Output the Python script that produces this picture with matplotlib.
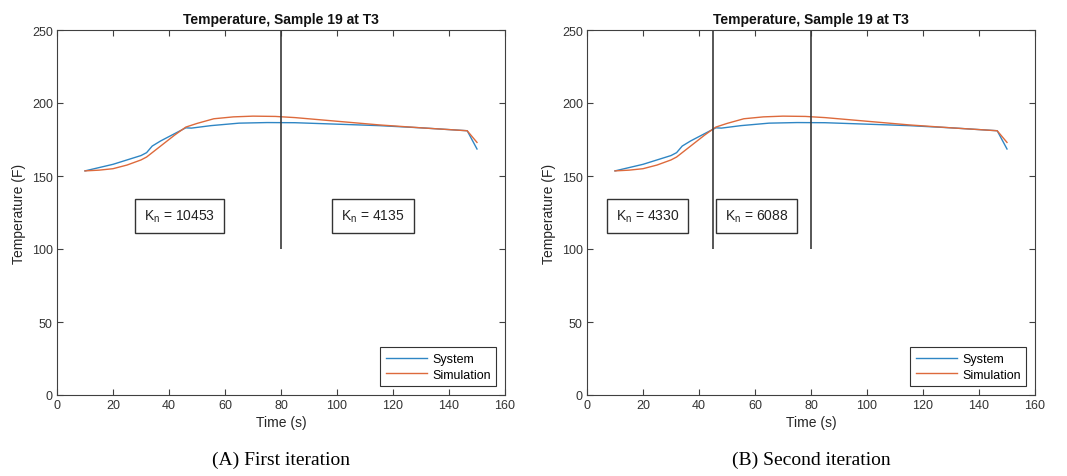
import matplotlib
matplotlib.use("Agg")
import matplotlib.pyplot as plt

plt.rcParams['font.family'] = ['Liberation Sans', 'DejaVu Sans']

## the data
sys_t = [10, 20, 30, 32, 34, 37, 41, 46, 48, 55, 65, 75, 85, 100, 115, 130, 146.5, 150]
sys_T = [153.5, 158, 164, 166, 170.5, 174, 178, 183, 182.8, 184.5, 186.2, 186.6, 186.5,
         185.5, 184.5, 183, 181, 168.5]

sim_t = [10, 15, 20, 25, 30, 32, 35, 38, 42, 46, 50, 56, 63, 70, 78, 85, 100, 115, 130, 146.5, 150]
sim_T = [153.5, 154, 155, 157.5, 161, 163, 167.5, 172, 178, 183.5, 186, 189.2, 190.5, 191,
         190.8, 190, 187.5, 185, 183, 181, 173]

splits_a = [80]
splits_b = [45, 80]
split_lo, split_hi = 100, 250

kn_a = [10453, 4135]
kn_b = [4330, 6088]

captions = ['(A) First iteration', '(B) Second iteration']

c_sys = '#2f86c4'
c_sim = '#dd6a3c'
c_ax = '#404040'

fig = plt.figure(figsize=(10.67, 4.77), dpi=100)

## axes positions in figure fraction
axw, axh = 448 / 1067, 365 / 477
bot = (477 - 396) / 477
lefts = [57 / 1067, 587 / 1067]


def panel(left, splits, kns, box_x, caption):
    ax = fig.add_axes([left, bot, axw, axh])
    ax.plot(sys_t, sys_T, color=c_sys, lw=1.0, label='System')
    ax.plot(sim_t, sim_T, color=c_sim, lw=1.0, label='Simulation')
    ax.vlines(splits, split_lo, split_hi, color='#3a3a3a', lw=1.2)

    for x, k in zip(box_x, kns):
        ax.text(x, 122.5, r'K$_\mathregular{n}$ = %d' % k, fontsize=10, color='#222222',
                ha='left', va='center',
                bbox=dict(boxstyle='square,pad=0.65', fc='white', ec='#333333', lw=1.0))

    ax.set_xlim(0, 160)
    ax.set_ylim(0, 250)
    ax.set_xticks(range(0, 161, 20))
    ax.set_yticks(range(0, 251, 50))
    ax.tick_params(direction='in', top=True, right=True, length=4, width=0.8,
                   labelsize=9, colors=c_ax, labelcolor='#333333', pad=3)
    for s in ax.spines.values():
        s.set_color(c_ax)
        s.set_linewidth(0.8)
    ax.set_xlabel('Time (s)', fontsize=10, color='#262626', labelpad=3)
    ax.set_ylabel('Temperature (F)', fontsize=10, color='#262626', labelpad=4)
    ax.set_title('Temperature, Sample 19 at T3', fontsize=10, fontweight='bold',
                 color='#111111', pad=5)

    leg = ax.legend(loc='lower right', fontsize=9, handlelength=3.3, handletextpad=0.4,
                    borderaxespad=0.7, fancybox=False, framealpha=1, borderpad=0.45,
                    labelspacing=0.3)
    leg.get_frame().set_edgecolor('#333333')
    leg.get_frame().set_linewidth(0.8)

    fig.text(left + axw / 2, 0.035, caption, ha='center', va='center', fontsize=14,
             family=['Liberation Serif', 'DejaVu Serif'])
    return ax


## first iteration
panel(lefts[0], splits_a, kn_a, [31.0, 101.5], captions[0])
## second iteration
panel(lefts[1], splits_b, kn_b, [10.3, 49.3], captions[1])

plt.savefig('out.png', dpi=100)
